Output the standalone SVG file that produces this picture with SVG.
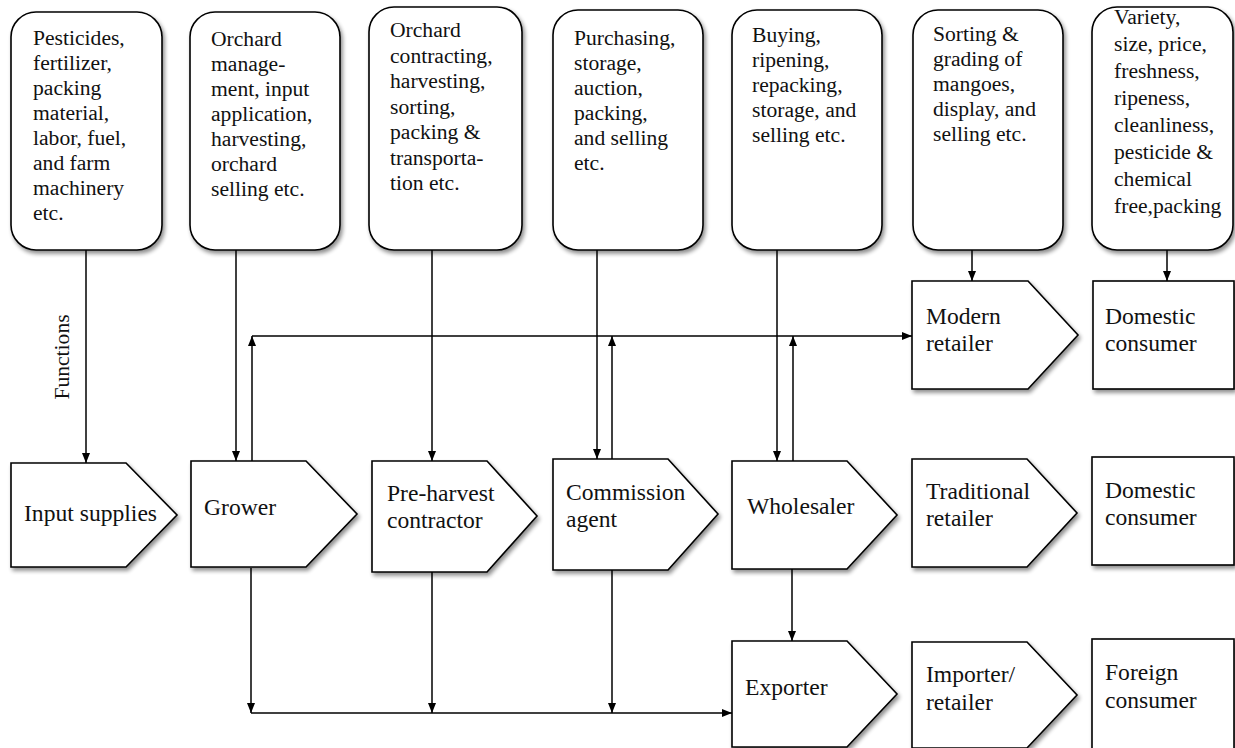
<svg xmlns="http://www.w3.org/2000/svg" width="1235" height="748" viewBox="0 0 1235 748">
  <style>
    .box { fill: #ffffff; stroke: #000000; stroke-width: 1.6; filter: url(#shadow); }
    .fn { font-size: 21.6px; fill: #111111; }
    .lbl { font-size: 23.6px; fill: #111111; }
    .arr { fill: none; stroke: #000000; stroke-width: 1.5; marker-end: url(#head); }
  </style>
  <defs>
    <filter id="shadow" x="-10%" y="-10%" width="125%" height="125%">
      <feGaussianBlur in="SourceAlpha" stdDeviation="2"/>
      <feOffset dx="2" dy="3" result="off"/>
      <feComponentTransfer><feFuncA type="linear" slope="0.45"/></feComponentTransfer>
      <feMerge><feMergeNode/><feMergeNode in="SourceGraphic"/></feMerge>
    </filter>
    <marker id="head" viewBox="0 0 10 10" refX="10" refY="5" markerWidth="10" markerHeight="8" markerUnits="userSpaceOnUse" orient="auto" preserveAspectRatio="none">
      <path d="M0,0 L10,5 L0,10 z" fill="#000000"/>
    </marker>
  </defs>
  <rect width="1235" height="748" fill="#ffffff"/>

  <g font-family="Liberation Serif, Times New Roman, serif">
  <!-- function boxes -->
  <g id="fn-input">
    <rect class="box" x="11" y="12" width="151" height="238" rx="25"/>
    <text class="fn" x="33" y="45"><tspan x="33">Pesticides,</tspan><tspan x="33" dy="25">fertilizer,</tspan><tspan x="33" dy="25">packing</tspan><tspan x="33" dy="25">material,</tspan><tspan x="33" dy="25">labor, fuel,</tspan><tspan x="33" dy="25">and farm</tspan><tspan x="33" dy="25">machinery</tspan><tspan x="33" dy="25">etc.</tspan></text>
  </g>
  <g id="fn-grower">
    <rect class="box" x="190" y="12" width="150" height="238" rx="25"/>
    <text class="fn" x="211" y="46"><tspan x="211">Orchard</tspan><tspan x="211" dy="25">manage-</tspan><tspan x="211" dy="25">ment, input</tspan><tspan x="211" dy="25">application,</tspan><tspan x="211" dy="25">harvesting,</tspan><tspan x="211" dy="25">orchard</tspan><tspan x="211" dy="25">selling etc.</tspan></text>
  </g>
  <g id="fn-contractor">
    <rect class="box" x="369" y="7" width="153" height="243" rx="25"/>
    <text class="fn" x="390" y="37"><tspan x="390">Orchard</tspan><tspan x="390" dy="25.5">contracting,</tspan><tspan x="390" dy="25.5">harvesting,</tspan><tspan x="390" dy="25.5">sorting,</tspan><tspan x="390" dy="25.5">packing &amp;</tspan><tspan x="390" dy="25.5">transporta-</tspan><tspan x="390" dy="25.5">tion etc.</tspan></text>
  </g>
  <g id="fn-agent">
    <rect class="box" x="553" y="10" width="150" height="240" rx="25"/>
    <text class="fn" x="574" y="45"><tspan x="574">Purchasing,</tspan><tspan x="574" dy="25">storage,</tspan><tspan x="574" dy="25">auction,</tspan><tspan x="574" dy="25">packing,</tspan><tspan x="574" dy="25">and selling</tspan><tspan x="574" dy="25">etc.</tspan></text>
  </g>
  <g id="fn-wholesaler">
    <rect class="box" x="732" y="10" width="150" height="240" rx="25"/>
    <text class="fn" x="752" y="42"><tspan x="752">Buying,</tspan><tspan x="752" dy="25">ripening,</tspan><tspan x="752" dy="25">repacking,</tspan><tspan x="752" dy="25">storage, and</tspan><tspan x="752" dy="25">selling etc.</tspan></text>
  </g>
  <g id="fn-retailer">
    <rect class="box" x="913" y="10" width="150" height="240" rx="25"/>
    <text class="fn" x="933" y="41"><tspan x="933">Sorting &amp;</tspan><tspan x="933" dy="25">grading of</tspan><tspan x="933" dy="25">mangoes,</tspan><tspan x="933" dy="25">display, and</tspan><tspan x="933" dy="25">selling etc.</tspan></text>
  </g>
  <g id="fn-consumer">
    <rect class="box" x="1092" y="7" width="141" height="243" rx="25"/>
    <text class="fn" x="1114" y="24"><tspan x="1114">Variety,</tspan><tspan x="1114" dy="27">size, price,</tspan><tspan x="1114" dy="27">freshness,</tspan><tspan x="1114" dy="27">ripeness,</tspan><tspan x="1114" dy="27">cleanliness,</tspan><tspan x="1114" dy="27">pesticide &amp;</tspan><tspan x="1114" dy="27">chemical</tspan><tspan x="1114" dy="27">free,packing</tspan></text>
  </g>

  <!-- side caption -->
  <text class="fn" transform="translate(69,357) rotate(-90)" text-anchor="middle">Functions</text>

  <!-- connectors -->
  <g id="connectors">
    <!-- functions down to actors -->
    <line class="arr" x1="86" y1="250" x2="86" y2="463"/>
    <line class="arr" x1="236" y1="250" x2="236" y2="461"/>
    <line class="arr" x1="432" y1="250" x2="432" y2="461"/>
    <line class="arr" x1="597" y1="250" x2="597" y2="459"/>
    <line class="arr" x1="777" y1="250" x2="777" y2="461"/>
    <line class="arr" x1="972" y1="250" x2="972" y2="281"/>
    <line class="arr" x1="1167" y1="250" x2="1167" y2="281"/>
    <!-- upper channel to modern retailer -->
    <line class="arr" x1="252" y1="461" x2="252" y2="336"/>
    <line class="arr" x1="612" y1="459" x2="612" y2="336"/>
    <line class="arr" x1="793" y1="461" x2="793" y2="336"/>
    <line class="arr" x1="252" y1="336" x2="912" y2="336"/>
    <!-- lower channel to exporter -->
    <line class="arr" x1="251" y1="568" x2="251" y2="713"/>
    <line class="arr" x1="432" y1="572" x2="432" y2="713"/>
    <line class="arr" x1="612" y1="570" x2="612" y2="713"/>
    <line class="arr" x1="251" y1="713" x2="732" y2="713"/>
    <line class="arr" x1="792" y1="569" x2="792" y2="641"/>
  </g>

  <!-- actors -->
  <g id="input-supplies">
    <path class="box" d="M11,463 H126 L177,515 L126,567 H11 Z"/>
    <text class="lbl" x="24" y="521">Input supplies</text>
  </g>
  <g id="grower">
    <path class="box" d="M191,461 H306 L357,514 L306,567 H191 Z"/>
    <text class="lbl" x="204" y="515">Grower</text>
  </g>
  <g id="pre-harvest-contractor">
    <path class="box" d="M372,461 H487 L537,516 L487,572 H372 Z"/>
    <text class="lbl" x="387" y="501"><tspan x="387">Pre-harvest</tspan><tspan x="387" dy="27">contractor</tspan></text>
  </g>
  <g id="commission-agent">
    <path class="box" d="M553,459 H668 L718,514 L668,570 H553 Z"/>
    <text class="lbl" x="566" y="500"><tspan x="566">Commission</tspan><tspan x="566" dy="27">agent</tspan></text>
  </g>
  <g id="wholesaler">
    <path class="box" d="M732,461 H847 L897,515 L847,569 H732 Z"/>
    <text class="lbl" x="747" y="514">Wholesaler</text>
  </g>
  <g id="traditional-retailer">
    <path class="box" d="M912,459 H1027 L1077,513 L1027,567 H912 Z"/>
    <text class="lbl" x="926" y="499"><tspan x="926">Traditional</tspan><tspan x="926" dy="27">retailer</tspan></text>
  </g>
  <g id="domestic-consumer-traditional">
    <rect class="box" x="1092" y="457" width="142" height="108"/>
    <text class="lbl" x="1105" y="498"><tspan x="1105">Domestic</tspan><tspan x="1105" dy="27">consumer</tspan></text>
  </g>
  <g id="modern-retailer">
    <path class="box" d="M912,281 H1028 L1078,335 L1028,389 H912 Z"/>
    <text class="lbl" x="926" y="324"><tspan x="926">Modern</tspan><tspan x="926" dy="27">retailer</tspan></text>
  </g>
  <g id="domestic-consumer-modern">
    <rect class="box" x="1093" y="281" width="141" height="108"/>
    <text class="lbl" x="1105" y="324"><tspan x="1105">Domestic</tspan><tspan x="1105" dy="27">consumer</tspan></text>
  </g>
  <g id="exporter">
    <path class="box" d="M732,641 H847 L897,694 L847,747 H732 Z"/>
    <text class="lbl" x="745" y="695">Exporter</text>
  </g>
  <g id="importer-retailer">
    <path class="box" d="M912,642 H1027 L1077,695 L1027,748 H912 Z"/>
    <text class="lbl" x="926" y="682"><tspan x="926">Importer/</tspan><tspan x="926" dy="28">retailer</tspan></text>
  </g>
  <g id="foreign-consumer">
    <rect class="box" x="1092" y="639" width="142" height="112"/>
    <text class="lbl" x="1105" y="680"><tspan x="1105">Foreign</tspan><tspan x="1105" dy="28">consumer</tspan></text>
  </g>
  </g>
</svg>
